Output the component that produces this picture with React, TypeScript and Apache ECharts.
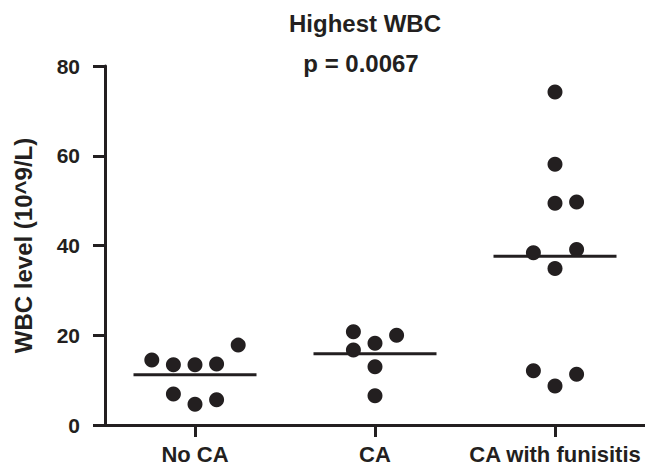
import React, { useEffect, useRef } from "react";
import * as echarts from "echarts";

const categories = ["No CA", "CA", "CA with funisitis"];
const noCaValues = [14.5, 13.4, 13.4, 13.6, 17.8, 6.9, 4.6, 5.6];
const caValues = [20.8, 16.7, 18.2, 20.0, 13.0, 6.5];
const funisitisValues = [74.2, 58.1, 49.4, 49.7, 38.4, 39.1, 34.9, 12.1, 8.7, 11.3];
// horizontal jitter slot of each point
const noCaSlots = [-2, -1, 0, 1, 2, -1, 0, 1];
const caSlots = [-1, -1, 0, 1, 0, 0];
const funisitisSlots = [0, 0, 0, 1, -1, 1, 0, -1, 0, 1];
const yTicks = [0, 20, 40, 60, 80];
const titleText = "Highest WBC";
const pText = "p = 0.0067";
const yName = "WBC level (10^9/L)";

const INK = "#231f20";
const FONT = "'Liberation Sans', Arial, Helvetica, sans-serif";
const SLOT_PX = 21.6;

export default function App() {
  const ref = useRef<HTMLDivElement>(null);
  useEffect(() => {
    if (!ref.current) return;
    const chart = echarts.init(ref.current, undefined, { renderer: "svg" });
    const groups = [noCaValues, caValues, funisitisValues];
    const slots = [noCaSlots, caSlots, funisitisSlots];
    const dots: any[] = [];
    groups.forEach((vals, i) => {
      vals.forEach((v, j) => {
        dots.push({ value: [i, v], symbolOffset: [slots[i][j] * SLOT_PX, 0] });
      });
    });
    const means = groups.map((vals, i) => [i, vals.reduce((a, b) => a + b, 0) / vals.length]);

    chart.setOption({
      animation: false,
      backgroundColor: "#ffffff",
      grid: { left: 105, right: 0, top: 66, bottom: 44, containLabel: false },
      graphic: [
        {
          type: "text",
          x: 365,
          y: 23.5,
          style: {
            text: titleText,
            font: `bold 24px ${FONT}`,
            fill: INK,
            align: "center",
            verticalAlign: "middle",
          },
        },
        {
          type: "text",
          x: 361,
          y: 63.5,
          style: {
            text: pText,
            font: `bold 24px ${FONT}`,
            fill: INK,
            align: "center",
            verticalAlign: "middle",
          },
        },
      ],
      xAxis: {
        type: "category",
        data: categories,
        boundaryGap: true,
        axisLine: { show: true, lineStyle: { color: INK, width: 3 } },
        axisTick: { show: true, alignWithLabel: true, interval: 0, length: 12, lineStyle: { color: INK, width: 3 } },
        axisLabel: {
          interval: 0,
          color: INK,
          fontSize: 22,
          fontWeight: "bold",
          fontFamily: FONT,
          margin: 18,
        },
        splitLine: { show: false },
      },
      yAxis: {
        type: "value",
        min: yTicks[0],
        max: yTicks[yTicks.length - 1],
        interval: yTicks[1] - yTicks[0],
        name: yName,
        nameLocation: "middle",
        nameGap: 70,
        nameTextStyle: { color: INK, fontSize: 24, fontWeight: "bold", fontFamily: FONT },
        axisLine: { show: true, lineStyle: { color: INK, width: 3 } },
        axisTick: { show: true, length: 12, lineStyle: { color: INK, width: 3 } },
        axisLabel: {
          color: INK,
          fontSize: 21,
          fontWeight: "bold",
          fontFamily: FONT,
          margin: 25,
        },
        splitLine: { show: false },
      },
      series: [
        {
          type: "scatter",
          data: means,
          symbol: "rect",
          symbolSize: [123, 3],
          itemStyle: { color: INK, opacity: 1 },
          z: 2,
        },
        {
          type: "scatter",
          data: dots,
          symbol: "circle",
          symbolSize: 15,
          itemStyle: { color: INK, opacity: 1 },
          z: 3,
        },
      ],
    });
    return () => chart.dispose();
  }, []);
  return <div ref={ref} style={{ width: 645, height: 469, position: "absolute", left: 0, top: 0 }} />;
}
